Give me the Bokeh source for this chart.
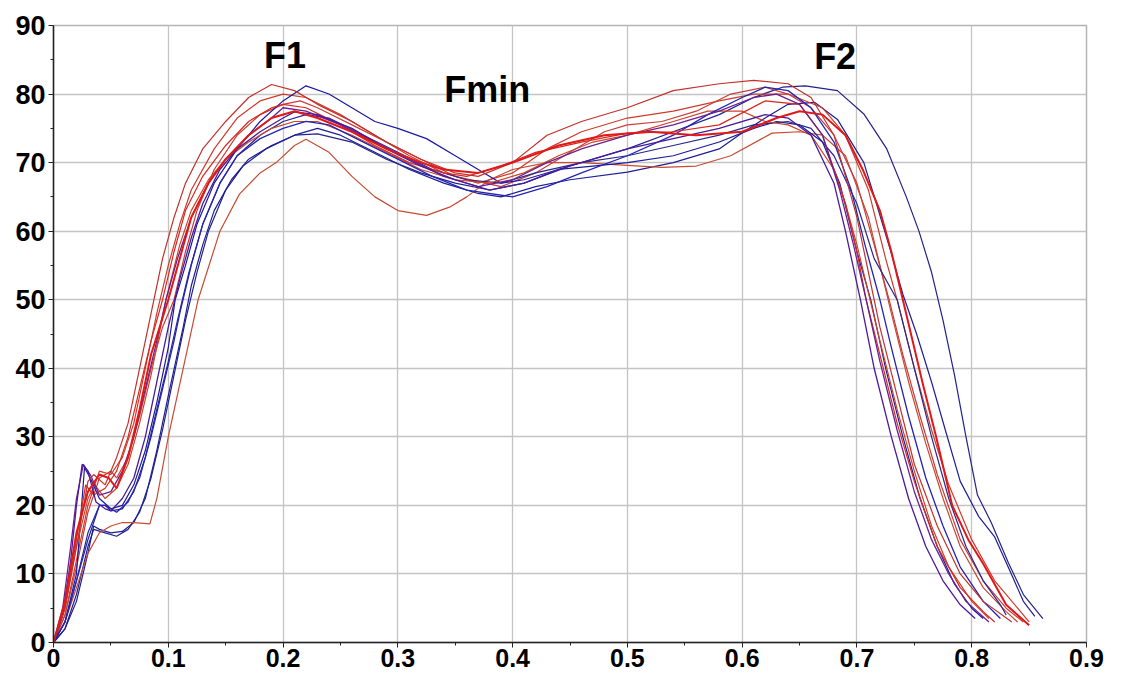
from bokeh.plotting import figure
from bokeh.embed import file_html
from bokeh.resources import INLINE
from bokeh.models import Range1d, FixedTicker, Label

# ---- data: (time, force) points ----
r1 = [(0,0),(0.01,5),(0.02,14),(0.03,23.5),(0.035,24.5),(0.045,23),(0.055,27),(0.065,32),(0.075,40),(0.085,48),
      (0.095,56),(0.105,62),(0.115,67),(0.13,72),(0.15,76),(0.17,79.5),(0.19,81.4),(0.21,80.5),(0.23,78.5),(0.26,76),
      (0.29,73),(0.32,70.5),(0.35,68.5),(0.37,68),(0.4,70),(0.43,74),(0.46,76),(0.5,78),(0.54,80.5),(0.58,81.5),
      (0.61,82),(0.64,81.5),(0.66,79.5),(0.68,74),(0.7,62),(0.71,54),(0.72,46),(0.735,36),(0.75,26),(0.77,17),
      (0.79,10),(0.81,6),(0.835,3)]
r2 = [(0,0),(0.01,4),(0.02,12),(0.03,20),(0.04,25),(0.05,24.5),(0.06,27),(0.07,32),(0.08,40),(0.09,48),(0.1,55),
      (0.11,61),(0.12,66),(0.14,72),(0.16,76.5),(0.18,79),(0.2,80),(0.22,79.5),(0.25,77),(0.28,74),(0.31,71),
      (0.34,68.5),(0.37,67),(0.4,68.5),(0.43,72),(0.46,74.5),(0.5,76.5),(0.54,77.5),(0.58,79),(0.61,80),(0.64,80),
      (0.67,78),(0.69,74),(0.71,66),(0.725,56),(0.735,50),(0.75,40),(0.765,31),(0.78,23),(0.8,15),(0.82,9),
      (0.84,5),(0.85,3)]
r3 = [(0,0),(0.01,5),(0.02,15),(0.028,23),(0.035,21.5),(0.045,22.5),(0.055,25),(0.065,30),(0.075,37),(0.085,44),
      (0.095,50),(0.105,57),(0.115,63),(0.13,68),(0.15,72.5),(0.17,76),(0.19,78),(0.2,78.5),(0.22,78),(0.25,75.5),
      (0.28,72.5),(0.31,70),(0.34,68.5),(0.36,68),(0.39,69.5),(0.42,71.5),(0.46,73),(0.5,74.3),(0.54,74.5),
      (0.58,75.5),(0.62,79),(0.65,78.5),(0.67,74),(0.69,64),(0.7,57),(0.708,50),(0.72,42),(0.735,32),(0.75,23.5),
      (0.77,14),(0.79,8),(0.81,4.5),(0.82,3)]
r4 = [(0,0),(0.01,6),(0.02,16),(0.03,22),(0.04,24.5),(0.048,24),(0.055,22.5),(0.065,27),(0.075,34),(0.085,42),
      (0.1,50),(0.11,56),(0.12,62),(0.135,67),(0.15,70.5),(0.17,74),(0.19,76.5),(0.21,77.5),(0.23,76.5),(0.26,74.5),
      (0.29,72),(0.32,70),(0.34,69),(0.37,68.5),(0.4,70),(0.44,72.5),(0.48,74),(0.52,74.5),(0.56,74),(0.6,74.5),
      (0.63,76.5),(0.65,77.5),(0.67,77),(0.69,74),(0.705,69),(0.72,63),(0.73,57),(0.74,50),(0.757,38),(0.769,30),
      (0.783,20),(0.797,15),(0.81,11.5),(0.83,5.5),(0.85,2.5)]
r5 = [(0,0),(0.01,3),(0.02,8),(0.03,13),(0.04,16),(0.05,17),(0.06,17.5),(0.07,17.5),(0.084,17.3),(0.09,21),
      (0.1,30),(0.113,40),(0.126,50),(0.145,60),(0.162,65.4),(0.18,68.5),(0.194,70),(0.21,72.5),(0.22,73.4),
      (0.24,71.5),(0.26,68),(0.28,65),(0.3,63),(0.325,62.3),(0.345,63.5),(0.36,65),(0.38,67.5),(0.4,69),(0.43,70),
      (0.46,70),(0.5,69.6),(0.53,69.3),(0.56,69.5),(0.59,71),(0.626,74.3),(0.65,74.5),(0.67,74),(0.69,71),
      (0.71,62),(0.72,55),(0.73,48),(0.745,38),(0.76,29),(0.775,21),(0.79,14),(0.81,8),(0.83,4.5),(0.84,3)]
r6 = [(0,0),(0.01,5),(0.02,14),(0.03,21),(0.036,23),(0.045,21),(0.055,22.5),(0.065,26),(0.075,32),(0.085,39),
      (0.098,50),(0.11,58),(0.12,63),(0.135,67.5),(0.15,70.5),(0.17,73),(0.19,75),(0.21,76),(0.23,76),(0.26,74),
      (0.29,71.5),(0.32,69),(0.35,67.5),(0.38,67),(0.41,68.5),(0.44,71),(0.47,73),(0.5,74),(0.54,76),(0.57,77.5),
      (0.6,77.5),(0.62,76),(0.64,75.5),(0.66,74),(0.68,69),(0.69,64),(0.7,58),(0.71,51),(0.72,44),(0.735,34),
      (0.75,25),(0.765,17),(0.78,11),(0.8,6),(0.815,3.5)]
r7 = [(0,0),(0.01,4),(0.02,11),(0.03,19),(0.04,24),(0.05,25),(0.055,24),(0.065,27),(0.075,33),(0.085,40),
      (0.095,46),(0.105,50),(0.115,57),(0.125,63),(0.14,69),(0.16,74),(0.18,77),(0.2,78.5),(0.215,79),(0.23,78),
      (0.26,75.5),(0.29,73),(0.32,70.5),(0.35,68),(0.39,66.5),(0.42,68.5),(0.45,71.5),(0.48,74.5),(0.5,75.5),
      (0.53,76),(0.56,77.5),(0.59,80),(0.62,81),(0.64,80),(0.66,78),(0.68,74),(0.7,67),(0.715,58),(0.728,50),
      (0.74,42),(0.755,33),(0.77,24.5),(0.79,15),(0.81,9),(0.83,5),(0.845,3)]

b1 = [(0,0),(0.008,4),(0.015,12),(0.02,20),(0.025,26),(0.03,25),(0.037,20.5),(0.045,19.5),(0.05,19.2),(0.06,21),
      (0.07,24),(0.08,30),(0.09,38),(0.1,46),(0.11,53),(0.12,59),(0.13,64),(0.145,69),(0.16,72),(0.18,74.5),
      (0.2,76.5),(0.21,77.4),(0.23,77),(0.26,75),(0.29,72),(0.32,69.5),(0.35,67.5),(0.38,66),(0.41,67),(0.44,69),
      (0.47,70.5),(0.5,72),(0.54,73.5),(0.58,75),(0.62,77),(0.64,76.5),(0.66,74),(0.68,67),(0.69,60),(0.703,50),
      (0.715,40),(0.73,30),(0.745,21),(0.76,14),(0.775,9),(0.79,5.5),(0.803,3.5)]
b2 = [(0,0),(0.01,3),(0.02,10),(0.027,25.5),(0.032,24),(0.04,21),(0.05,19.5),(0.06,20),(0.07,23),(0.08,28),
      (0.09,35),(0.1,43),(0.106,50),(0.115,55),(0.125,61),(0.14,67),(0.16,72),(0.18,76),(0.2,79),(0.22,81.2),
      (0.24,80),(0.26,78),(0.28,76),(0.3,75),(0.325,73.5),(0.35,71),(0.37,69),(0.39,67),(0.41,67.5),(0.44,69),
      (0.47,69.5),(0.5,70),(0.54,71),(0.58,73),(0.61,75),(0.63,76),(0.65,75.5),(0.67,73),(0.685,67),(0.7,57),
      (0.712,50),(0.725,40),(0.74,30),(0.755,21),(0.77,14),(0.785,8.5),(0.8,5),(0.81,3.5)]
b3 = [(0,0),(0.01,3),(0.02,9),(0.03,15),(0.04,20),(0.045,20),(0.055,19),(0.065,20.5),(0.075,24),(0.085,30),
      (0.095,37),(0.105,44),(0.11,48),(0.12,55),(0.13,61),(0.145,67),(0.16,71),(0.18,73.5),(0.2,75),(0.22,76),
      (0.24,75.5),(0.27,73),(0.3,70.5),(0.33,68),(0.36,66),(0.4,65),(0.43,66.5),(0.46,68.5),(0.5,71),(0.54,74),
      (0.57,77),(0.6,79.5),(0.62,81),(0.64,80.5),(0.66,78),(0.68,73),(0.695,66),(0.707,58),(0.72,50),(0.73,43),
      (0.745,33),(0.76,24),(0.775,17),(0.79,11),(0.81,6),(0.825,3.5)]
b4 = [(0,0),(0.01,2),(0.02,6),(0.03,13),(0.035,17),(0.04,16.5),(0.05,16),(0.06,16.2),(0.07,17.5),(0.08,21),
      (0.09,28),(0.1,36),(0.113,46),(0.12,52),(0.13,58),(0.14,63),(0.155,67.5),(0.17,70.5),(0.19,72.5),(0.21,74),
      (0.23,75),(0.25,74),(0.28,71.5),(0.31,69),(0.34,67),(0.37,65.5),(0.39,65),(0.42,66.5),(0.45,67.5),
      (0.5,68.6),(0.54,70),(0.58,72),(0.597,74),(0.62,76.5),(0.64,78.5),(0.663,78.8),(0.683,76.3),(0.706,70),
      (0.717,64),(0.729,57.3),(0.74,50.8),(0.752,45),(0.765,38),(0.777,31),(0.79,23.5),(0.806,18.4),(0.82,15.4),
      (0.835,9.8),(0.845,6),(0.855,3.8)]
b5 = [(0,0),(0.01,2),(0.02,7),(0.03,14),(0.035,16.5),(0.045,16),(0.055,15.5),(0.065,16.5),(0.075,19),(0.085,24),
      (0.095,31),(0.105,39),(0.115,47),(0.125,54),(0.135,60),(0.15,66),(0.165,69.5),(0.185,72),(0.21,74),
      (0.23,74.2),(0.26,73),(0.29,70.5),(0.32,68.5),(0.35,67),(0.38,66),(0.41,67),(0.45,69.5),(0.5,72),(0.54,74.5),
      (0.58,77),(0.61,79.5),(0.635,81),(0.655,81.2),(0.683,80.5),(0.706,77.1),(0.726,72),(0.743,65),(0.754,60),
      (0.765,54),(0.775,47),(0.785,39),(0.795,30),(0.805,21.5),(0.817,17.5),(0.832,11.6),(0.845,7),(0.862,3.5)]
b6 = [(0,0),(0.01,3),(0.02,9),(0.03,16),(0.04,20),(0.045,20),(0.05,19.2),(0.06,19.5),(0.07,22),(0.08,27),
      (0.09,34),(0.1,41),(0.108,47),(0.118,54),(0.13,61),(0.145,67),(0.16,71),(0.18,74),(0.2,76),(0.22,77),
      (0.24,76.5),(0.27,74),(0.3,71.5),(0.33,69),(0.36,67.5),(0.39,67),(0.42,68.5),(0.46,70),(0.5,71),(0.54,72.5),
      (0.58,74),(0.61,75.5),(0.64,76),(0.66,75),(0.68,71),(0.7,64),(0.715,56),(0.735,50),(0.75,40),(0.765,30),
      (0.78,21),(0.795,14),(0.81,9),(0.825,5.5),(0.83,4)]
b7 = [(0,0),(0.008,5),(0.015,14),(0.02,21),(0.026,26),(0.032,24.5),(0.04,21.5),(0.05,22),(0.06,25),(0.07,30),
      (0.08,37),(0.09,44),(0.098,50),(0.108,56),(0.12,62),(0.135,67),(0.15,70.5),(0.17,74),(0.19,76.5),(0.2,78),
      (0.22,77.5),(0.25,75.5),(0.28,73),(0.31,70.5),(0.34,68),(0.37,66.5),(0.4,67.5),(0.43,70),(0.46,72),(0.5,74),
      (0.54,75.5),(0.58,77.5),(0.61,79.5),(0.63,80),(0.65,78.5),(0.67,74),(0.685,66),(0.697,58),(0.708,50),
      (0.72,41),(0.735,31),(0.75,22),(0.765,15),(0.78,10),(0.795,6),(0.815,3)]

x_ticks = [0, 0.1, 0.2, 0.3, 0.4, 0.5, 0.6, 0.7, 0.8, 0.9]
y_ticks = [0, 10, 20, 30, 40, 50, 60, 70, 80, 90]
annotations = [("F1", 0.2016, 85.6), ("Fmin", 0.378, 80.7), ("F2", 0.681, 85.5)]

styles = [
    (b5, "#22228a", 1.2), (b4, "#1e1e96", 1.2), (r5, "#c84a32", 1.2), (r2, "#d03a2a", 1.2),
    (r7, "#c83c3c", 1.2), (b2, "#1a1aa0", 1.2), (b6, "#28288e", 1.2), (r6, "#cc4428", 1.2),
    (b3, "#2424b4", 1.3), (r3, "#d8281e", 1.2), (b7, "#6a2090", 1.3), (b1, "#4a1a9a", 1.3),
    (r1, "#c4302a", 1.2), (r4, "#e01818", 2.0),
]

p = figure(width=1110, height=679, output_backend="svg", toolbar_location=None,
           x_range=Range1d(0, 0.9), y_range=Range1d(0, 90),
           min_border_left=53, min_border_right=24, min_border_top=25, min_border_bottom=37)
p.background_fill_color = "white"
p.border_fill_color = "white"
p.outline_line_color = "#b4b4b4"
p.outline_line_width = 1.5

for pts, col, w in styles:
    xs = [a for a, b in pts]
    ys = [b for a, b in pts]
    p.line(xs, ys, line_color=col, line_width=w)

p.xaxis.ticker = FixedTicker(ticks=x_ticks, minor_ticks=[0.05 + 0.1 * i for i in range(9)])
p.yaxis.ticker = FixedTicker(ticks=y_ticks, minor_ticks=[5 + 10 * i for i in range(9)])
p.xaxis.major_label_overrides = {t: ("0" if t == 0 else str(t)) for t in x_ticks}

for ax in (p.xaxis, p.yaxis):
    ax.axis_line_color = "#222222"
    ax.axis_line_width = 1.5
    ax.major_tick_line_color = "#222222"
    ax.minor_tick_line_color = "#222222"
    ax.major_tick_out = 5
    ax.major_tick_in = 0
    ax.minor_tick_out = 3
    ax.minor_tick_in = 0
    ax.major_label_text_font = "Liberation Sans"
    ax.major_label_text_font_style = "bold"
    ax.major_label_text_font_size = "25px"
    ax.major_label_text_color = "black"
p.xaxis.major_label_standoff = 1
p.yaxis.major_label_standoff = 3
p.yaxis.major_label_text_font_size = "27px"

p.xgrid.grid_line_color = "#c4c4c4"
p.ygrid.grid_line_color = "#c4c4c4"
p.xgrid.grid_line_width = 1.3
p.ygrid.grid_line_width = 1.3

for txt, xv, yv in annotations:
    p.add_layout(Label(x=xv, y=yv, text=txt, text_align="center", text_baseline="middle",
                       text_font="Liberation Sans", text_font_style="bold",
                       text_font_size="36px", text_color="black"))

open("out.html", "w").write(file_html(p, INLINE))
